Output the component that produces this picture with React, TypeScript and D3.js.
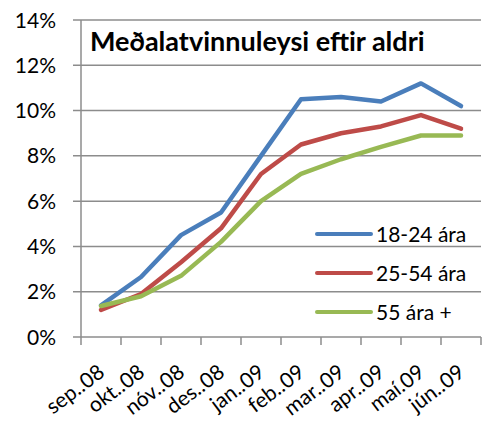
import React from "react";
import * as d3 from "d3";

const categories = ["sep..08", "okt..08", "nóv..08", "des..08", "jan..09", "feb..09", "mar..09", "apr..09", "maí.09", "jún..09"];
const yTicks = [0, 0.02, 0.04, 0.06, 0.08, 0.1, 0.12, 0.14];
const seriesNames = ["18-24 ára", "25-54 ára", "55 ára +"];
const s1824 = [1.4, 2.65, 4.5, 5.5, 8.0, 10.5, 10.6, 10.4, 11.2, 10.2];
const s2554 = [1.2, 1.9, 3.3, 4.8, 7.2, 8.5, 9.0, 9.3, 9.8, 9.2];
const s55 = [1.37, 1.8, 2.7, 4.2, 6.0, 7.2, 7.85, 8.4, 8.9, 8.9];
const title = "Meðalatvinnuleysi eftir aldri";

const colors = ["#4A7EBB", "#BE4B48", "#98B954"];
const FONT = "Lato, 'Open Sans', sans-serif";

export default function App() {
  const W = 486, H = 421;
  const x = d3.scaleBand().domain(categories).range([81, 481]);
  const y = d3.scaleLinear().domain([0, 0.14]).range([337, 20]);
  const series = [s1824, s2554, s55];
  const line = d3
    .line<number>()
    .x((_, i) => (x(categories[i]) as number) + x.bandwidth() / 2)
    .y((v) => y(v / 100));
  const grid = "#8c8c8c";
  const boundaries = categories.map((c) => x(c) as number).concat([x.range()[1]]);
  return (
    <svg width={W} height={H} style={{ position: "absolute", left: 0, top: 0, background: "#fff" }}>
      {yTicks.map((t) => (
        <g key={t}>
          <line x1={73} x2={481} y1={y(t)} y2={y(t)} stroke={grid} strokeWidth={1.5} />
          <text x={56} y={y(t)} dy="0.36em" textAnchor="end" fontFamily={FONT} fontSize={21} fill="#000">
            {d3.format(".0%")(t)}
          </text>
        </g>
      ))}
      <line x1={81} x2={81} y1={y(0.14)} y2={y(0)} stroke={grid} strokeWidth={1.5} />
      {boundaries.map((b, i) => (
        <line key={i} x1={b} x2={b} y1={y(0)} y2={y(0) + 8} stroke={grid} strokeWidth={1.5} />
      ))}
      {categories.map((c) => {
        const ax = (x(c) as number) + x.bandwidth() / 2 + 5;
        const ay = 375;
        return (
          <text key={c} x={ax} y={ay} textAnchor="end" fontFamily={FONT} fontSize={21} fill="#000" transform={`rotate(-37 ${ax} ${ay})`}>
            {c}
          </text>
        );
      })}
      {series.map((s, i) => (
        <path key={i} d={line(s) || ""} fill="none" stroke={colors[i]} strokeWidth={4.5} strokeLinejoin="round" strokeLinecap="round" />
      ))}
      <text x={90} y={51} fontFamily={FONT} fontWeight="bold" fontSize={27} fill="#000">
        {title}
      </text>
      {seriesNames.map((n, i) => {
        const ly = 234 + i * 39;
        return (
          <g key={n}>
            <line x1={317} x2={371} y1={ly} y2={ly} stroke={colors[i]} strokeWidth={4} strokeLinecap="round" />
            <text x={376} y={ly} dy="0.36em" fontFamily={FONT} fontSize={21} fill="#000">
              {n}
            </text>
          </g>
        );
      })}
    </svg>
  );
}
